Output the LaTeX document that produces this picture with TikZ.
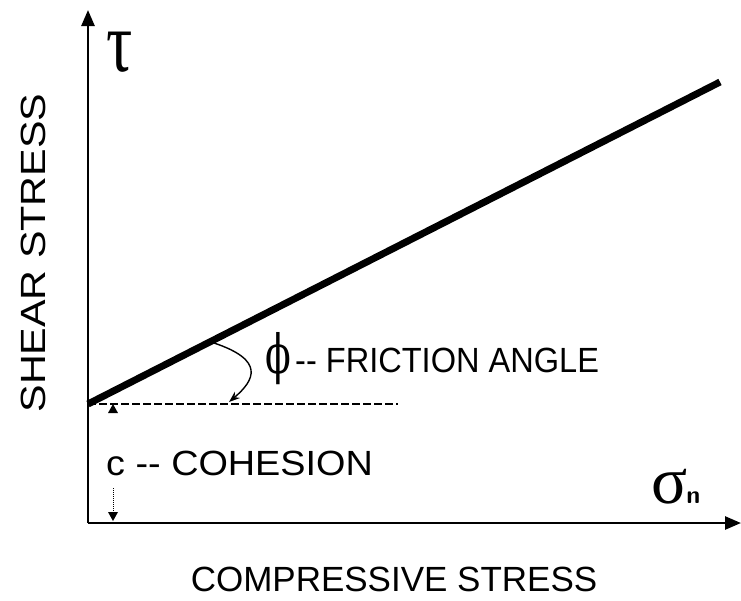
\documentclass[tikz,border=0pt]{standalone}
\usepackage{fontspec}
\setmainfont{Liberation Sans}
\newfontfamily\grk{Liberation Serif}
\newfontfamily\djv{DejaVu Serif}
\usetikzlibrary{arrows.meta}
\begin{document}
\begin{tikzpicture}[x=1pt,y=-1pt,
  axis/.style={line width=2.6pt,-{Triangle[length=16pt,width=13pt]}},
  lbl/.style={font=\fontsize{35}{38}\selectfont,inner sep=0pt}]
\useasboundingbox (0,0) rectangle (741,600);
\coordinate (O) at (88,523);
\coordinate (ytip) at (88,10);
\coordinate (xtip) at (741,523);
\coordinate (C) at (88,404);
\coordinate (E) at (720,82);
\coordinate (D) at (398,404);
\draw[axis] (O) -- (ytip);
\draw[axis] (O) -- (xtip);
\draw[line width=7pt] (C) -- (E);
\draw[line width=1.4pt,dash pattern=on 8pt off 3pt] (C) -- (D);
% angle arc
\coordinate (a1) at (214,343);
\coordinate (a2) at (229,402);
\draw[line width=1.4pt,-{Stealth[length=11pt,width=8pt]}] (a1) .. controls (265,360) and (255,380) .. (a2);
% cohesion
\coordinate (ct) at (113,404);
\coordinate (cb) at (113,521);
\fill (ct) -- ++(-5,9) -- ++(10,0) -- cycle;
\fill (cb) -- ++(-5,-9) -- ++(10,0) -- cycle;
\draw[line width=1pt,densely dotted] (113,488) -- (113,511);
\node[lbl,anchor=base west] (coh) at (106,475) {\scalebox{1.08}[1]{c -{}- COHESION}};
\node[inner sep=0pt,anchor=base west] (phi) at (265,373) {\scalebox{0.7}[1]{\fontsize{54}{56}\selectfont\djv ϕ}};
\node[lbl,anchor=base west] (fa) at (295,372) {\scalebox{0.93}[1]{-{}- FRICTION ANGLE}};
\node[inner sep=0pt,anchor=base west] (tau) at (106,71) {\scalebox{0.76}[1]{\fontsize{86}{88}\selectfont\grk τ}};
\node[inner sep=0pt,anchor=base west] (sig) at (651,503) {\fontsize{67}{69}\selectfont\grk σ\kern-1pt\fontsize{25}{27}\selectfont\sffamily\bfseries n};
\node[lbl] (xl) at (394,579) {COMPRESSIVE STRESS};
\node[lbl,rotate=90] (yl) at (33,253) {\scalebox{1.18}[1]{SHEAR STRESS}};
\end{tikzpicture}
\end{document}
